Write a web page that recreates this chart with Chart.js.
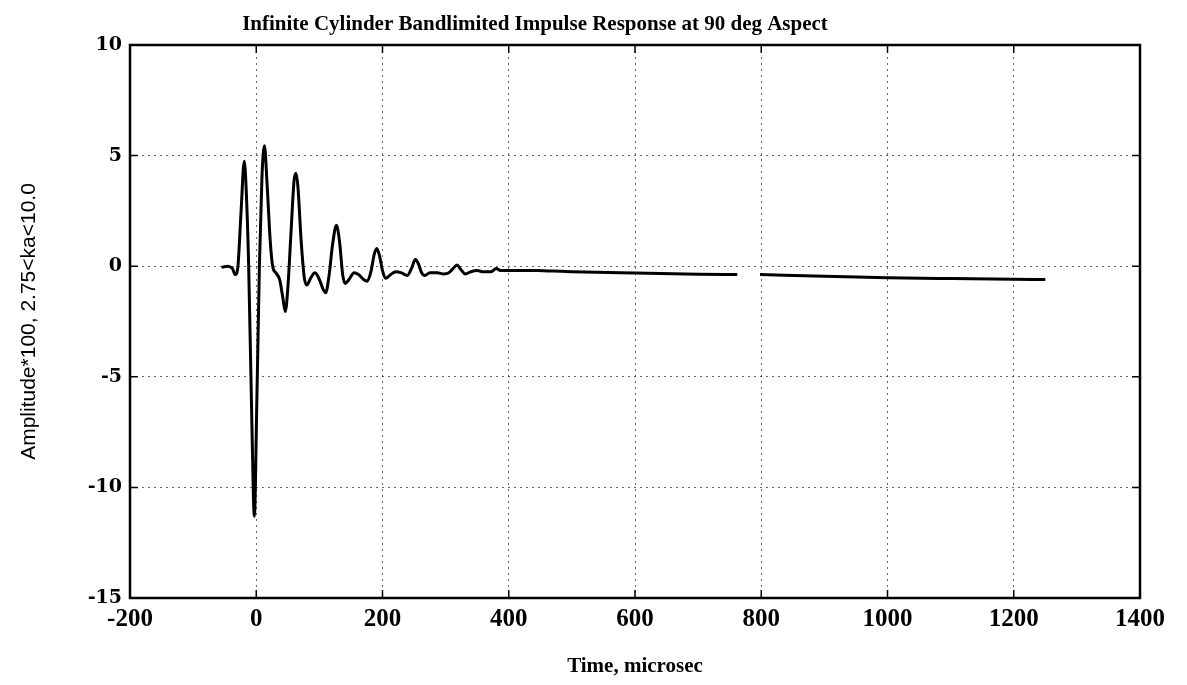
<!DOCTYPE html>
<html>
<head>
<meta charset="utf-8">
<script src="https://cdn.jsdelivr.net/npm/chart.js@4.4.1/dist/chart.umd.min.js"></script>
<style>
  html, body { margin: 0; padding: 0; background: #ffffff; }
  #wrap { position: relative; width: 1187px; height: 685px; }
</style>
</head>
<body>
<div id="wrap"><canvas id="c" width="1187" height="685"></canvas></div>
<script>
// ---- data ----
const chartTitle = "Infinite Cylinder Bandlimited Impulse Response at 90 deg Aspect";
const xAxisTitle = "Time, microsec";
const yAxisTitle = "Amplitude*100, 2.75<ka<10.0";

const xTickValues = [-200, 0, 200, 400, 600, 800, 1000, 1200, 1400];
const yTickValues = [-15, -10, -5, 0, 5, 10];

// time in microseconds
const timeUs = [
  -55, -45, -38, -33, -29, -24, -19, -16, -12, -7, -3, 1, 5, 9, 13, 17, 22, 26,
  31, 37, 42, 46, 50, 55, 60, 63, 66, 71, 76, 80, 86, 93, 100, 106, 110, 115,
  121, 127, 132, 137, 141, 147, 155, 162, 170, 176, 182, 187, 191, 195, 200,
  205, 212, 221, 230, 239, 246, 252, 257, 262, 267, 275, 287, 297, 305, 312,
  318, 324, 331, 340, 350, 360, 372, 380, 387, 400, 446, 470, 500, 600, 700,
  762, 780, 798, 900, 1000, 1100, 1200, 1250
];
// amplitude * 100 (null = gap in the trace)
const amplitude = [
  -0.05, 0.0, -0.1, -0.38, 0.0, 2.5, 4.75, 3.5, 0.0, -7.0, -11.3, -6.0, 0.0, 4.0, 5.45, 3.8, 1.2, 0.0,
  -0.3, -0.6, -1.4, -2.05, -1.0, 1.5, 3.9, 4.2, 3.6, 1.2, -0.5, -0.85, -0.55, -0.3, -0.6, -1.05, -1.2, -0.5,
  1.0, 1.85, 1.1, -0.4, -0.78, -0.6, -0.3, -0.38, -0.6, -0.68, -0.2, 0.55, 0.8, 0.5, -0.2,
  -0.55, -0.4, -0.25, -0.3, -0.42, -0.1, 0.3, 0.1, -0.3, -0.42, -0.3, -0.3, -0.35, -0.3, -0.1,
  0.05, -0.15, -0.35, -0.25, -0.2, -0.25, -0.25, -0.1, -0.2, -0.2, -0.2, -0.22, -0.25, -0.31, -0.36,
  -0.38, null, -0.38, -0.45, -0.52, -0.56, -0.59, -0.6
];

const points = timeUs.map((t, i) => ({ x: t, y: amplitude[i] }));

const serifBold = "'Liberation Serif', 'Times New Roman', serif";

const framePlugin = {
  id: 'frame',
  afterDraw(chart) {
    const { ctx, chartArea: a, scales } = chart;
    const xs = scales.x, ys = scales.y;
    ctx.save();
    // inward tick marks
    ctx.strokeStyle = '#000';
    ctx.lineWidth = 1.5;
    const tl = 8;
    ctx.beginPath();
    xTickValues.forEach(v => {
      const px = xs.getPixelForValue(v);
      ctx.moveTo(px, a.bottom); ctx.lineTo(px, a.bottom - tl);
      ctx.moveTo(px, a.top); ctx.lineTo(px, a.top + tl);
    });
    yTickValues.forEach(v => {
      const py = ys.getPixelForValue(v);
      ctx.moveTo(a.left, py); ctx.lineTo(a.left + tl, py);
      ctx.moveTo(a.right, py); ctx.lineTo(a.right - tl, py);
    });
    ctx.stroke();
    // box
    ctx.lineWidth = 2.5;
    ctx.strokeRect(a.left, a.top, a.right - a.left, a.bottom - a.top);
    // title
    ctx.fillStyle = '#000';
    ctx.font = "bold 21px " + serifBold;
    ctx.textAlign = 'center';
    ctx.textBaseline = 'middle';
    ctx.fillText(chartTitle, 535, 25);
    ctx.restore();
  }
};

new Chart(document.getElementById('c'), {
  type: 'line',
  data: {
    datasets: [{
      data: points,
      borderColor: '#000',
      borderWidth: 3,
      pointRadius: 0,
      fill: false,
      spanGaps: false,
      cubicInterpolationMode: 'monotone'
    }]
  },
  options: {
    responsive: false,
    animation: false,
    devicePixelRatio: 1,
    layout: { padding: { top: 45, right: 47, left: 0, bottom: 0 } },
    plugins: {
      legend: { display: false },
      title: { display: false },
      tooltip: { enabled: false }
    },
    scales: {
      x: {
        type: 'linear',
        min: -200, max: 1400,
        afterBuildTicks(scale) { scale.ticks = xTickValues.map(v => ({ value: v })); },
        afterFit(scale) { scale.height = 87; },
        ticks: {
          color: '#000',
          padding: 7,
          font: { family: serifBold, size: 25, weight: 'bold' },
          maxRotation: 0,
          callback: v => String(v)
        },
        grid: { color: 'rgba(0,0,0,0.6)', lineWidth: 1, drawTicks: false },
        border: { display: false, dash: [2, 4] },
        title: {
          display: true,
          text: xAxisTitle,
          color: '#000',
          font: { family: serifBold, size: 21, weight: 'bold' },
          padding: { top: 0, bottom: 6 }
        }
      },
      y: {
        type: 'linear',
        min: -15, max: 10,
        afterBuildTicks(scale) { scale.ticks = yTickValues.map(v => ({ value: v })); },
        afterFit(scale) { scale.width = 130; },
        ticks: {
          color: '#000',
          padding: 8,
          font: { family: "'DejaVu Serif', serif", size: 19, weight: 'bold' },
          callback: v => String(v)
        },
        grid: { color: 'rgba(0,0,0,0.6)', lineWidth: 1, drawTicks: false },
        border: { display: false, dash: [2, 4] },
        title: {
          display: true,
          text: yAxisTitle,
          color: '#000',
          font: { family: "'Liberation Sans', Arial, sans-serif", size: 21 },
          padding: { top: 17, bottom: 0 }
        }
      }
    }
  },
  plugins: [framePlugin]
});
</script>
</body>
</html>
